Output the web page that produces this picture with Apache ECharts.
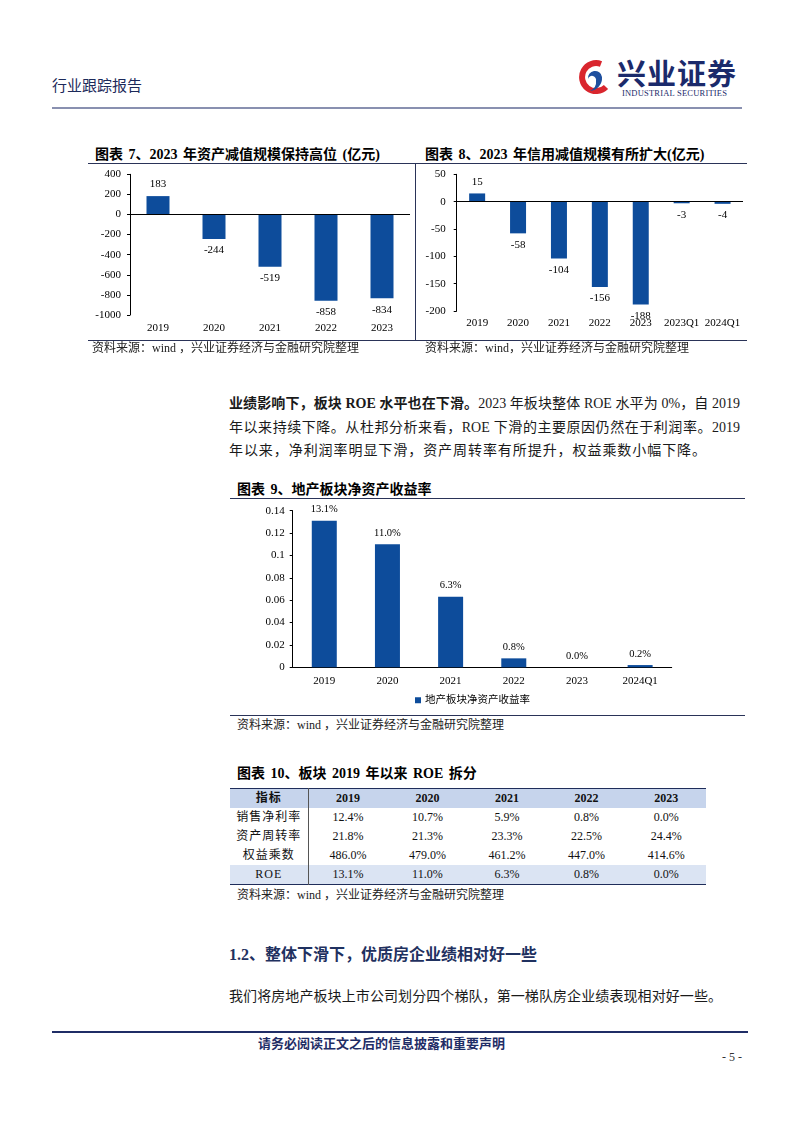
<!DOCTYPE html>
<html>
<head>
<meta charset="utf-8">
<script src="https://cdn.jsdelivr.net/npm/echarts@6.0.0/dist/echarts.min.js"></script>
<style>
html,body{margin:0;padding:0;background:#fff;}
#page{position:relative;width:802px;height:1133px;overflow:hidden;background:#fff;font-family:"Liberation Serif","Noto Sans CJK SC",serif;color:#111;}
.t{position:absolute;white-space:nowrap;}
.ln{position:absolute;}
.title{font-size:14px;line-height:17px;font-weight:bold;color:#000;word-spacing:2px;}
.src{font-size:12px;line-height:14px;color:#222;}
.para{font-size:14px;line-height:20px;color:#1a1a1a;text-align:justify;text-align-last:justify;white-space:nowrap;}
table.roe{position:absolute;border-collapse:collapse;table-layout:fixed;font-size:12px;color:#111;}
table.roe td{height:19px;padding:0;text-align:center;line-height:19px;}
table.roe tr.hd td{background:#c6d4ec;font-weight:bold;}
table.roe tr.last td{background:#dbe4f3;}
table.roe td.c0{border-right:1px solid #555;letter-spacing:1px;}
</style>
</head>
<body>
<div id="page">
  <!-- header -->
  <div class="t" style="left:52px;top:77px;font-size:15px;line-height:18px;color:#1c2a5a;">行业跟踪报告</div>
  <svg class="ln" style="left:577px;top:60px;" width="34" height="36" viewBox="0 0 34 36">
    <path d="M24 4 A14 14 0 1 0 29 27" stroke="#d9262e" stroke-width="6" fill="none"/>
    <path d="M11 19 A7 7 0 1 1 25 17 A13 13 0 0 1 13 31 A9 9 0 0 0 19 21 A4 4 0 0 0 11 19 Z" fill="#1f4f9e"/>
  </svg>
  <div class="t" style="left:617px;top:59px;font-size:29px;line-height:32px;font-weight:bold;color:#1b2a6b;letter-spacing:1px;">兴业证券</div>
  <div class="t" style="left:622px;top:88px;font-size:8.5px;line-height:10px;color:#1b2a6b;letter-spacing:0.2px;">INDUSTRIAL SECURITIES</div>
  <div class="ln" style="left:52px;top:107px;width:690px;height:2px;background:#8990b0;"></div>

  <!-- fig 7 & 8 -->
  <div class="t title" style="left:95px;top:145.5px;">图表 7、2023 年资产减值规模保持高位 (亿元)</div>
  <div class="t title" style="left:425px;top:145.5px;">图表 8、2023 年信用减值规模有所扩大(亿元)</div>
  <div class="ln" style="left:88px;top:162.5px;width:659px;height:1px;background:#2a3358;"></div>
  <div class="ln" style="left:415px;top:163px;width:1px;height:177px;background:#2a3358;"></div>
  <div class="ln" style="left:88px;top:339.5px;width:659px;height:1px;background:#2a3358;"></div>
  <div id="c7" class="ln" style="left:88px;top:160px;width:327px;height:185px;"></div>
  <div id="c8" class="ln" style="left:416px;top:160px;width:334px;height:185px;"></div>
  <div class="t src" style="left:92px;top:341px;">资料来源：wind ，兴业证券经济与金融研究院整理</div>
  <div class="t src" style="left:425px;top:341px;">资料来源：wind，兴业证券经济与金融研究院整理</div>

  <!-- paragraph -->
  <div class="t para" style="left:229px;top:394px;width:511px;"><b>业绩影响下，板块 ROE 水平也在下滑。</b>2023 年板块整体 ROE 水平为 0%，自 2019</div>
  <div class="t para" style="left:229px;top:417.5px;width:511px;">年以来持续下降。从杜邦分析来看，ROE 下滑的主要原因仍然在于利润率。2019</div>
  <div class="t para" style="left:229px;top:441px;width:477px;">年以来，净利润率明显下滑，资产周转率有所提升，权益乘数小幅下降。</div>

  <!-- fig 9 -->
  <div class="t title" style="left:237px;top:480.5px;">图表 9、地产板块净资产收益率</div>
  <div class="ln" style="left:230px;top:497.5px;width:515px;height:1px;background:#2a3358;"></div>
  <div id="c9" class="ln" style="left:230px;top:500px;width:515px;height:214px;"></div>
  <div class="ln" style="left:230px;top:714.5px;width:515px;height:1px;background:#2a3358;"></div>
  <div class="t src" style="left:237px;top:718px;">资料来源：wind ，兴业证券经济与金融研究院整理</div>

  <!-- fig 10 -->
  <div class="t title" style="left:237px;top:764.5px;">图表 10、板块 2019 年以来 ROE 拆分</div>
  <table id="tbl" class="roe" style="left:230px;top:788px;width:476px;border-top:1.5px solid #1f2d5a;border-bottom:1.5px solid #1f2d5a;"></table>
  <div class="t src" style="left:237px;top:888px;">资料来源：wind ，兴业证券经济与金融研究院整理</div>

  <!-- section -->
  <div class="t" style="left:229px;top:945px;font-size:16px;line-height:20px;font-weight:bold;color:#1f3160;">1.2、整体下滑下，优质房企业绩相对好一些</div>
  <div class="t para" style="left:229px;top:987px;width:493px;">我们将房地产板块上市公司划分四个梯队，第一梯队房企业绩表现相对好一些。</div>

  <!-- footer -->
  <div class="ln" style="left:52px;top:1031px;width:696px;height:2px;background:#1f2d66;"></div>
  <div class="t" style="left:258px;top:1036px;font-size:13px;line-height:16px;font-weight:bold;color:#1f2d66;">请务必阅读正文之后的信息披露和重要声明</div>
  <div class="t" style="left:722px;top:1050px;font-size:12px;line-height:14px;color:#333;">- 5 -</div>
</div>
<script>
// ---------- data ----------
const assetCats = ['2019', '2020', '2021', '2022', '2023'];
const assetImpairment = [183, -244, -519, -858, -834];

const creditCats = ['2019', '2020', '2021', '2022', '2023', '2023Q1', '2024Q1'];
const creditImpairment = [15, -58, -104, -156, -188, -3, -4];

const roeCats = ['2019', '2020', '2021', '2022', '2023', '2024Q1'];
const roeValues = [0.131, 0.110, 0.063, 0.008, 0.000, 0.002];
const roeSeriesName = '地产板块净资产收益率';

const tableHeader = ['指标', '2019', '2020', '2021', '2022', '2023'];
const tableRowNames = ['销售净利率', '资产周转率', '权益乘数', 'ROE'];
const netMargin = ['12.4%', '10.7%', '5.9%', '0.8%', '0.0%'];
const assetTurnover = ['21.8%', '21.3%', '23.3%', '22.5%', '24.4%'];
const equityMultiplier = ['486.0%', '479.0%', '461.2%', '447.0%', '414.6%'];
const roeRow = ['13.1%', '11.0%', '6.3%', '0.8%', '0.0%'];

// ---------- table ----------
(function () {
  const tbl = document.getElementById('tbl');
  const rows = [netMargin, assetTurnover, equityMultiplier, roeRow];
  let html = '<colgroup><col style="width:78px">' + '<col style="width:79.6px">'.repeat(5) + '</colgroup>';
  html += '<tr class="hd">' + tableHeader.map((h, i) => '<td' + (i === 0 ? ' class="c0"' : '') + '>' + h + '</td>').join('') + '</tr>';
  rows.forEach((r, k) => {
    html += '<tr' + (k === rows.length - 1 ? ' class="last"' : '') + '><td class="c0">' + tableRowNames[k] + '</td>' +
      r.map(v => '<td>' + v + '</td>').join('') + '</tr>';
  });
  tbl.innerHTML = html;
})();

// ---------- charts ----------
const serif = '"Liberation Serif","Times New Roman","Noto Sans CJK SC",serif';
const barColor = '#0d4c9b';

function signedData(vals) {
  return vals.map(v => ({ value: v, label: { position: v >= 0 ? 'top' : 'bottom' } }));
}
function zeroLine() {
  return {
    symbol: 'none', silent: true, label: { show: false },
    lineStyle: { color: '#000', type: 'solid', width: 1 },
    emphasis: { disabled: true },
    data: [{ yAxis: 0 }]
  };
}
function yAxisBase(min, max, interval, margin) {
  return {
    type: 'value', min: min, max: max, interval: interval,
    splitLine: { show: false },
    axisLine: { show: true, lineStyle: { color: '#000', width: 1 } },
    axisTick: { show: true, length: 3, lineStyle: { color: '#000' } },
    axisLabel: {
      color: '#000', fontSize: 11, fontFamily: serif, margin: margin,
      formatter: v => String(+v.toFixed(4))
    }
  };
}

const c7 = echarts.init(document.getElementById('c7'), null, { renderer: 'canvas' });
c7.setOption({
  animation: false,
  grid: { left: 42, top: 14.3, width: 280, height: 140.7 },
  xAxis: {
    type: 'category', data: assetCats,
    axisLine: { show: false }, axisTick: { show: false },
    axisLabel: { color: '#000', fontSize: 11, fontFamily: serif, margin: 8, interval: 0 }
  },
  yAxis: yAxisBase(-1000, 400, 200, 9),
  series: [{
    type: 'bar', barWidth: 23, data: signedData(assetImpairment),
    itemStyle: { color: barColor },
    label: { show: true, color: '#000', fontSize: 11, fontFamily: serif, distance: 6 },
    markLine: zeroLine()
  }]
});

const c8 = echarts.init(document.getElementById('c8'), null, { renderer: 'canvas' });
c8.setOption({
  animation: false,
  grid: { left: 40.7, top: 14.3, width: 286.3, height: 136.7 },
  xAxis: {
    type: 'category', data: creditCats,
    axisLine: { show: false }, axisTick: { show: false },
    axisLabel: { color: '#000', fontSize: 11, fontFamily: serif, margin: 7, interval: 0, hideOverlap: false }
  },
  yAxis: yAxisBase(-200, 50, 50, 11),
  series: [{
    type: 'bar', barWidth: 16, data: signedData(creditImpairment),
    itemStyle: { color: barColor },
    label: { show: true, color: '#000', fontSize: 11, fontFamily: serif, distance: 6 },
    markLine: zeroLine()
  }]
});

const c9 = echarts.init(document.getElementById('c9'), null, { renderer: 'canvas' });
c9.setOption({
  animation: false,
  grid: { left: 62.7, top: 10.7, width: 379, height: 156.6 },
  legend: {
    data: [roeSeriesName], left: 180, top: 190,
    icon: 'rect', itemWidth: 6, itemHeight: 6, itemGap: 4,
    textStyle: { color: '#000', fontSize: 10.5, fontFamily: serif, padding: [0, 0, 0, -1] }
  },
  xAxis: {
    type: 'category', data: roeCats,
    axisLine: { show: true, lineStyle: { color: '#000', width: 1 } },
    axisTick: { show: false },
    axisLabel: { color: '#000', fontSize: 11, fontFamily: serif, margin: 8, interval: 0 }
  },
  yAxis: yAxisBase(0, 0.14, 0.02, 8),
  series: [{
    name: roeSeriesName, type: 'bar', barWidth: 25, data: roeValues,
    itemStyle: { color: barColor },
    label: {
      show: true, position: 'top', color: '#000', fontSize: 10.5, fontFamily: serif, distance: 6,
      formatter: p => (p.value * 100).toFixed(1) + '%'
    }
  }]
});
</script>
</body>
</html>
